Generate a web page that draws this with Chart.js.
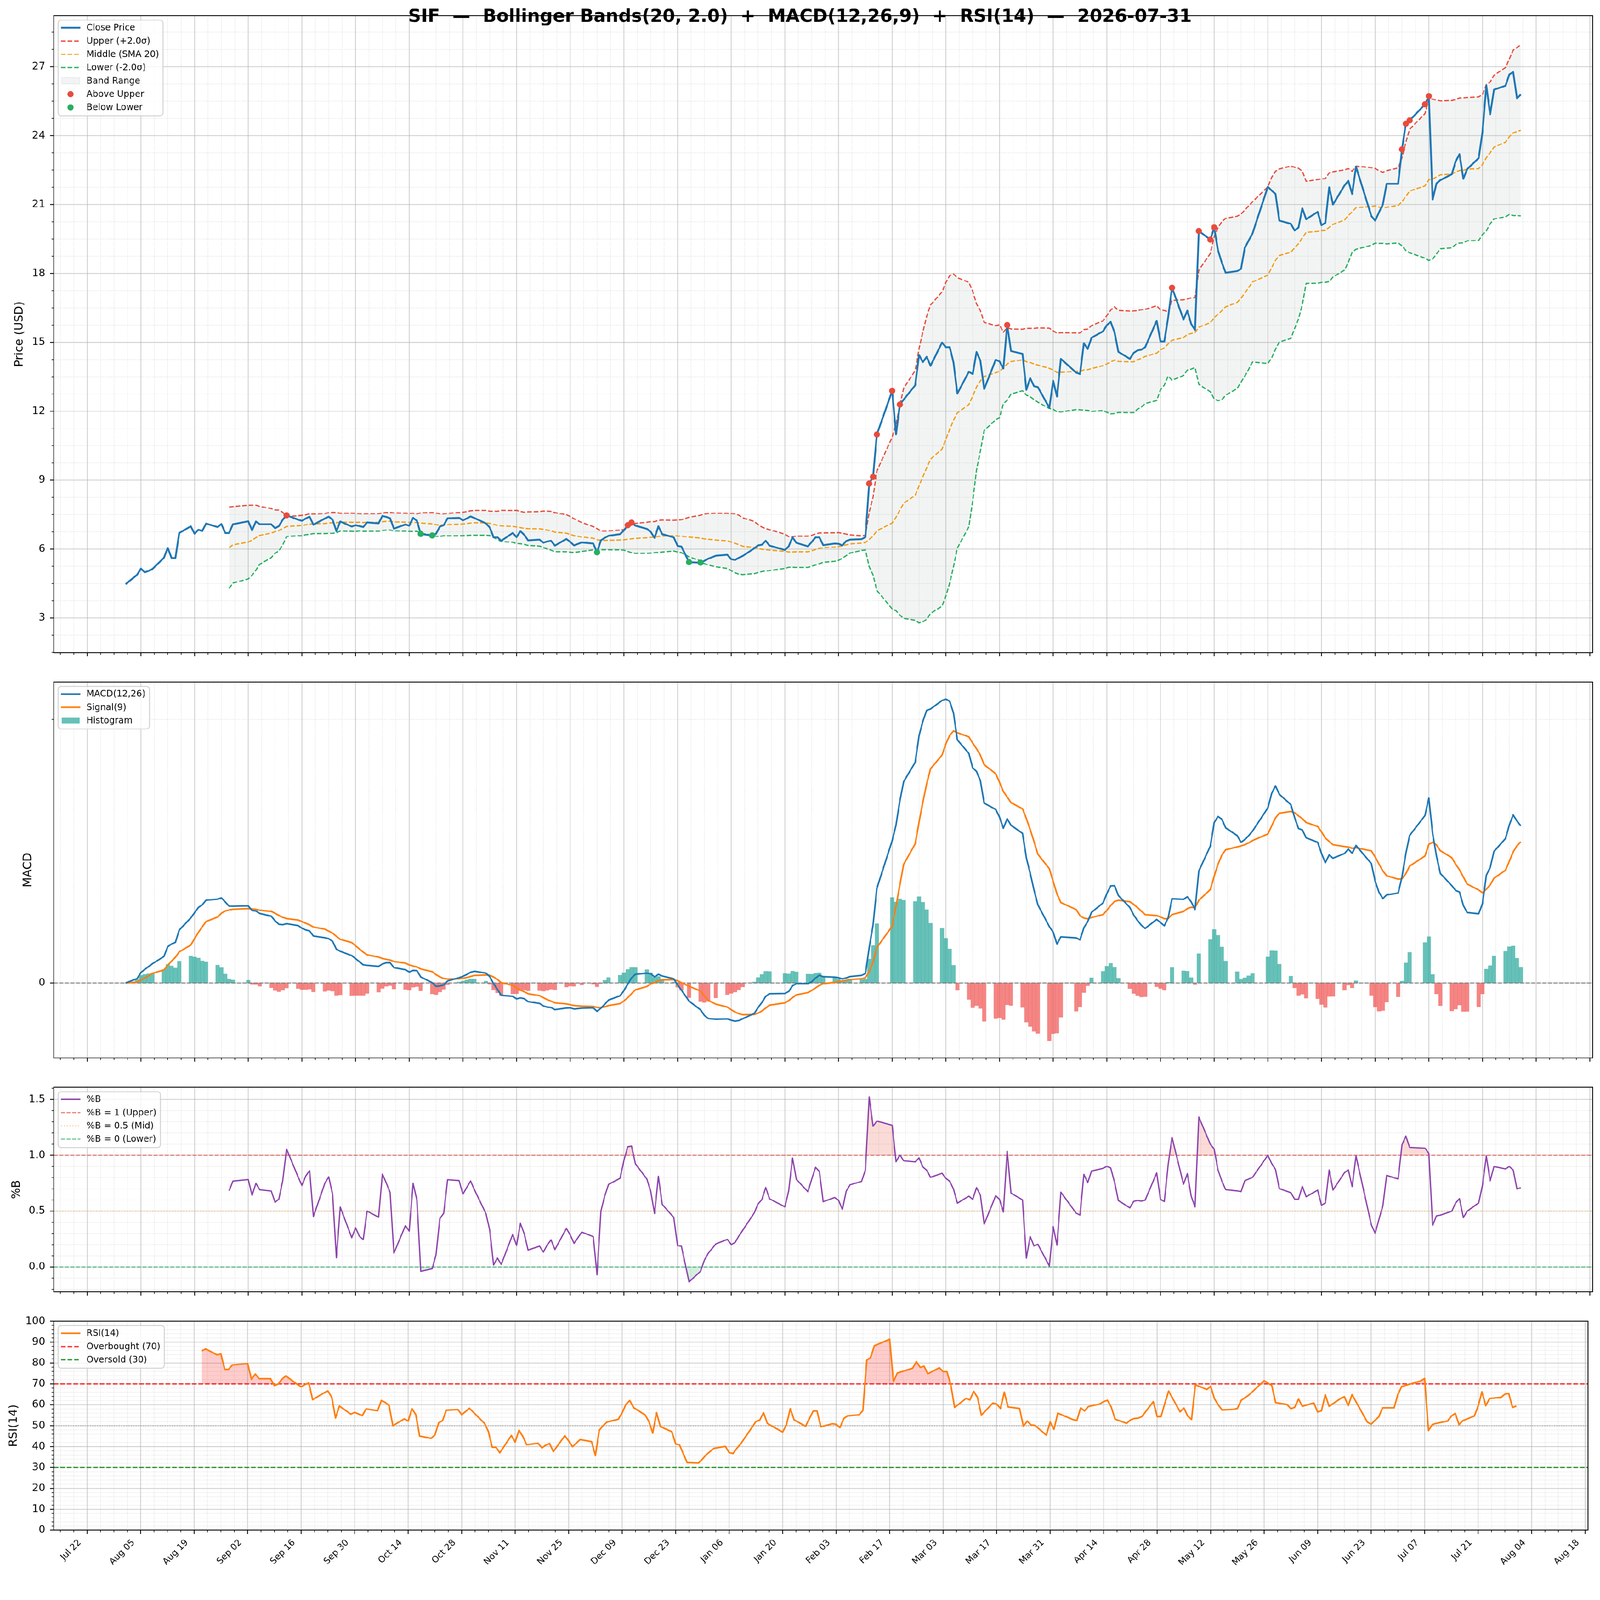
<!DOCTYPE html>
<html>
<head>
<meta charset="utf-8">
<script src="https://cdn.jsdelivr.net/npm/chart.js"></script>
<style>
  html, body { margin: 0; padding: 0; background: #fff; overflow: hidden; }
  #stage { width: 4378px; height: 4322px; position: absolute; left: 0; top: 0; transform-origin: 0 0; background: #fff; }
  canvas { position: absolute; left: 0; }
</style>
</head>
<body>
<div id="stage">
<canvas id="pricePanel" width="4378" height="1826" style="top:0px"></canvas>
<canvas id="macdPanel" width="4378" height="1109" style="top:1826px"></canvas>
<canvas id="pbPanel" width="4378" height="640" style="top:2935px"></canvas>
<canvas id="rsiPanel" width="4378" height="747" style="top:3575px"></canvas>
</div>
<script>
// fit the 4378x4322 drawing into whatever CSS viewport the browser reports
(function () {
  const s = Math.min(window.innerWidth / 4378, window.innerHeight / 4322);
  if (s > 0 && Math.abs(s - 1) > 0.002) document.getElementById("stage").style.transform = "scale(" + s + ")";
})();

// trading days and closes
const tradeDates = [
  "2025-08-01","2025-08-04","2025-08-05","2025-08-06","2025-08-07","2025-08-08","2025-08-11","2025-08-12","2025-08-13","2025-08-14","2025-08-15","2025-08-18","2025-08-19","2025-08-20","2025-08-21","2025-08-22","2025-08-25","2025-08-26","2025-08-27","2025-08-28","2025-08-29",
  "2025-09-02","2025-09-03","2025-09-04","2025-09-05","2025-09-08","2025-09-09","2025-09-10","2025-09-11","2025-09-12","2025-09-15","2025-09-16","2025-09-17","2025-09-18","2025-09-19","2025-09-22","2025-09-23","2025-09-24","2025-09-25","2025-09-26","2025-09-29","2025-09-30",
  "2025-10-01","2025-10-02","2025-10-03","2025-10-06","2025-10-07","2025-10-08","2025-10-09","2025-10-10","2025-10-13","2025-10-14","2025-10-15","2025-10-16","2025-10-17","2025-10-20","2025-10-21","2025-10-22","2025-10-23","2025-10-24","2025-10-27","2025-10-28","2025-10-29","2025-10-30","2025-10-31",
  "2025-11-03","2025-11-04","2025-11-05","2025-11-06","2025-11-07","2025-11-10","2025-11-11","2025-11-12","2025-11-13","2025-11-14","2025-11-17","2025-11-18","2025-11-19","2025-11-20","2025-11-21","2025-11-24","2025-11-25","2025-11-26","2025-11-28",
  "2025-12-01","2025-12-02","2025-12-03","2025-12-04","2025-12-05","2025-12-08","2025-12-09","2025-12-10","2025-12-11","2025-12-12","2025-12-15","2025-12-16","2025-12-17","2025-12-18","2025-12-19","2025-12-22","2025-12-23","2025-12-24","2025-12-26","2025-12-29","2025-12-30","2025-12-31",
  "2026-01-02","2026-01-05","2026-01-06","2026-01-07","2026-01-08","2026-01-09","2026-01-12","2026-01-13","2026-01-14","2026-01-15","2026-01-16","2026-01-20","2026-01-21","2026-01-22","2026-01-23","2026-01-26","2026-01-27","2026-01-28","2026-01-29","2026-01-30",
  "2026-02-02","2026-02-03","2026-02-04","2026-02-05","2026-02-06","2026-02-09","2026-02-10","2026-02-11","2026-02-12","2026-02-13","2026-02-17","2026-02-18","2026-02-19","2026-02-20","2026-02-23","2026-02-24","2026-02-25","2026-02-26","2026-02-27",
  "2026-03-02","2026-03-03","2026-03-04","2026-03-05","2026-03-06","2026-03-09","2026-03-10","2026-03-11","2026-03-12","2026-03-13","2026-03-16","2026-03-17","2026-03-18","2026-03-19","2026-03-20","2026-03-23","2026-03-24","2026-03-25","2026-03-26","2026-03-27","2026-03-30","2026-03-31",
  "2026-04-01","2026-04-02","2026-04-06","2026-04-07","2026-04-08","2026-04-09","2026-04-10","2026-04-13","2026-04-14","2026-04-15","2026-04-16","2026-04-17","2026-04-20","2026-04-21","2026-04-22","2026-04-23","2026-04-24","2026-04-27","2026-04-28","2026-04-29","2026-04-30",
  "2026-05-01","2026-05-04","2026-05-05","2026-05-06","2026-05-07","2026-05-08","2026-05-11","2026-05-12","2026-05-13","2026-05-14","2026-05-15","2026-05-18","2026-05-19","2026-05-20","2026-05-21","2026-05-22","2026-05-26","2026-05-27","2026-05-28","2026-05-29",
  "2026-06-01","2026-06-02","2026-06-03","2026-06-04","2026-06-05","2026-06-08","2026-06-09","2026-06-10","2026-06-11","2026-06-12","2026-06-15","2026-06-16","2026-06-17","2026-06-18","2026-06-22","2026-06-23","2026-06-24","2026-06-25","2026-06-26","2026-06-29","2026-06-30",
  "2026-07-01","2026-07-02","2026-07-06","2026-07-07","2026-07-08","2026-07-09","2026-07-10","2026-07-13","2026-07-14","2026-07-15","2026-07-16","2026-07-17","2026-07-20","2026-07-21","2026-07-22","2026-07-23","2026-07-24","2026-07-27","2026-07-28","2026-07-29","2026-07-30","2026-07-31"
];
const closePrices = [
  4.47, 4.88, 5.15, 4.99, 5.05, 5.13, 5.62, 6.05, 5.61, 5.61, 6.70, 6.99, 6.67, 6.84, 6.79, 7.11, 6.96, 7.09, 6.70, 6.70, 7.08,
  7.21, 6.82, 7.20, 7.08, 7.08, 6.91, 7.00, 7.28, 7.47, 7.28, 7.23, 7.33, 7.41, 7.06, 7.33, 7.41, 7.28, 6.78, 7.20, 6.98, 7.04,
  7.00, 6.96, 7.16, 7.12, 7.44, 7.40, 7.34, 6.89, 7.07, 7.02, 7.36, 7.23, 6.66, 6.59, 6.67, 6.98, 7.04, 7.34, 7.36, 7.25, 7.33, 7.42, 7.35,
  7.12, 6.94, 6.52, 6.52, 6.36, 6.70, 6.52, 6.78, 6.62, 6.38, 6.41, 6.28, 6.33, 6.36, 6.15, 6.44, 6.31, 6.16, 6.29,
  6.24, 5.86, 6.38, 6.49, 6.58, 6.65, 6.81, 7.04, 7.15, 7.02, 6.88, 6.75, 6.49, 6.99, 6.65, 6.51, 6.14, 6.11, 5.43, 5.41, 5.49, 5.58,
  5.71, 5.75, 5.56, 5.53, 5.62, 5.70, 6.03, 6.16, 6.19, 6.36, 6.15, 5.96, 6.12, 6.51, 6.27, 6.12, 6.31, 6.51, 6.51, 6.17,
  6.24, 6.23, 6.16, 6.35, 6.41, 6.43, 6.52, 8.85, 9.14, 10.99, 12.89, 10.99, 12.29, 12.51, 13.13, 14.45, 14.14, 14.37, 13.98,
  14.99, 14.79, 14.79, 14.12, 12.77, 13.72, 13.62, 14.58, 14.20, 12.97, 14.24, 14.17, 13.86, 15.75, 14.62, 14.50, 12.93, 13.44, 13.09, 13.05, 12.15, 13.32,
  12.64, 14.28, 13.68, 13.62, 14.96, 14.71, 15.20, 15.48, 15.75, 15.89, 15.44, 14.59, 14.28, 14.54, 14.65, 14.68, 14.79, 15.94, 15.04, 15.04, 16.10,
  17.38, 16.00, 16.38, 15.80, 15.54, 19.85, 19.47, 20.00, 19.00, 18.47, 18.03, 18.10, 18.20, 19.12, 19.43, 19.74, 21.77, 21.61, 21.46, 20.30,
  20.16, 19.87, 20.00, 20.83, 20.36, 20.68, 20.10, 20.20, 21.75, 21.00, 21.83, 22.03, 21.46, 22.65, 20.50, 20.30, 20.66, 21.00, 21.90, 21.90, 23.40,
  24.52, 24.66, 25.36, 25.72, 21.22, 21.92, 22.06, 22.32, 22.88, 23.19, 22.12, 22.54, 23.02, 24.15, 26.18, 24.93, 26.00, 26.17, 26.66, 26.77, 25.63, 25.79
];

// axis ticks
const xTickDates = ["2025-07-22","2025-08-05","2025-08-19","2025-09-02","2025-09-16","2025-09-30","2025-10-14","2025-10-28","2025-11-11","2025-11-25","2025-12-09","2025-12-23","2026-01-06","2026-01-20","2026-02-03","2026-02-17","2026-03-03","2026-03-17","2026-03-31","2026-04-14","2026-04-28","2026-05-12","2026-05-26","2026-06-09","2026-06-23","2026-07-07","2026-07-21","2026-08-04","2026-08-18"];
const xTickLabels = ["Jul 22","Aug 05","Aug 19","Sep 02","Sep 16","Sep 30","Oct 14","Oct 28","Nov 11","Nov 25","Dec 09","Dec 23","Jan 06","Jan 20","Feb 03","Feb 17","Mar 03","Mar 17","Mar 31","Apr 14","Apr 28","May 12","May 26","Jun 09","Jun 23","Jul 07","Jul 21","Aug 04","Aug 18"];
const priceTicks = [3, 6, 9, 12, 15, 18, 21, 24, 27];
const pctBTicks = [0, 0.5, 1, 1.5];
const rsiTicks = [0, 10, 20, 30, 40, 50, 60, 70, 80, 90, 100];

const FONT = "'DejaVu Sans', sans-serif";
const TITLE = "SIF  \u2014  Bollinger Bands(20, 2.0)  +  MACD(12,26,9)  +  RSI(14)  \u2014  2026-07-31";

// ---- indicators (standard definitions, from the closes above) ----
function rollMean(a, n) {
  return a.map((v, i) => {
    if (i < n - 1) return null;
    let s = 0;
    for (let j = i - n + 1; j <= i; j++) s += a[j];
    return s / n;
  });
}
function rollStd(a, n) {
  const m = rollMean(a, n);
  return a.map((v, i) => {
    if (m[i] === null) return null;
    let s = 0;
    for (let j = i - n + 1; j <= i; j++) s += (a[j] - m[i]) ** 2;
    return Math.sqrt(s / (n - 1));
  });
}
function ema(a, span) {
  const k = 2 / (span + 1);
  const out = [];
  a.forEach((v, i) => out.push(i === 0 ? v : out[i - 1] + k * (v - out[i - 1])));
  return out;
}
function wilderRsi(a, n) {
  const al = 1 / n;
  const out = [null];
  let g = 0, l = 0;
  for (let i = 1; i < a.length; i++) {
    const d = a[i] - a[i - 1];
    const up = Math.max(d, 0), dn = Math.max(-d, 0);
    if (i === 1) { g = up; l = dn; } else { g = (1 - al) * g + al * up; l = (1 - al) * l + al * dn; }
    out.push(i < n ? null : (l === 0 ? 100 : 100 - 100 / (1 + g / l)));
  }
  return out;
}

const dayNum = s => Date.UTC(+s.slice(0, 4), +s.slice(5, 7) - 1, +s.slice(8, 10)) / 86400000;
const xs = tradeDates.map(dayNum);
const N = xs.length;

const mid = rollMean(closePrices, 20);
const sd = rollStd(closePrices, 20);
const upper = mid.map((m, i) => m === null ? null : m + 2 * sd[i]);
const lower = mid.map((m, i) => m === null ? null : m - 2 * sd[i]);
const pctB = closePrices.map((c, i) => mid[i] === null ? null : (c - lower[i]) / (upper[i] - lower[i]));
const ema12 = ema(closePrices, 12), ema26 = ema(closePrices, 26);
const macd = ema12.map((v, i) => v - ema26[i]);
const signal = ema(macd, 9);
const hist = macd.map((v, i) => v - signal[i]);
const rsi = wilderRsi(closePrices, 14);

const pts = arr => arr.map((y, i) => ({x: xs[i], y: y}));

// x range: data span plus half a bar, plus 5% margins
const marginDays = 0.05 * (xs[N - 1] - xs[0] + 1);
const X_MIN = xs[0] - 0.5 - marginDays;
const X_MAX = xs[N - 1] + 0.5 + marginDays;

const macdAll = macd.concat(signal, hist, [0]);
const mLo = Math.min(...macdAll), mHi = Math.max(...macdAll);
const MACD_MIN = mLo - 0.05 * (mHi - mLo);
const MACD_MAX = mHi + 0.05 * (mHi - mLo);

function buildXTicks() {
  const majors = xTickDates.map(dayNum);
  const step = (majors[1] - majors[0]) / 4;
  const out = majors.map((v, i) => ({value: v, lab: xTickLabels[i]}));
  for (let v = majors[0] - step; v >= X_MIN; v -= step) out.push({value: v, minor: true});
  majors.forEach(m => { for (let q = 1; q < 4; q++) out.push({value: m + q * step, minor: true}); });
  return out.filter(t => t.value >= X_MIN && t.value <= X_MAX).sort((a, b) => a.value - b.value);
}
function yTickList(majors, minorStep, lo, hi) {
  const out = majors.filter(v => v >= lo && v <= hi).map(v => ({value: v}));
  for (let k = Math.ceil(lo / minorStep - 1e-9); k * minorStep <= hi + 1e-9; k++) {
    const v = +(k * minorStep).toFixed(6);
    if (!majors.some(m => Math.abs(m - v) < 1e-6)) out.push({value: v, minor: true});
  }
  return out.sort((a, b) => a.value - b.value);
}

// legends drawn matplotlib style, inside the upper-left corner
const legends = {
  pricePanel: [
    {label: "Close Price", kind: "line", color: "#1f77b4", width: 5},
    {label: "Upper (+2.0\u03c3)", kind: "line", color: "#e74c3c", width: 3.4, dash: [12.6, 5.4]},
    {label: "Middle (SMA 20)", kind: "line", color: "#f39c12", width: 3.4, dash: [12.6, 5.4]},
    {label: "Lower (-2.0\u03c3)", kind: "line", color: "#27ae60", width: 3.4, dash: [12.6, 5.4]},
    {label: "Band Range", kind: "patch", color: "rgba(149,165,166,0.12)", edge: "rgba(149,165,166,0.2)"},
    {label: "Above Upper", kind: "dot", color: "#e74c3c"},
    {label: "Below Lower", kind: "dot", color: "#27ae60"}
  ],
  macdPanel: [
    {label: "MACD(12,26)", kind: "line", color: "#1f77b4", width: 4.3},
    {label: "Signal(9)", kind: "line", color: "#ff7f0e", width: 4.3},
    {label: "Histogram", kind: "patch", color: "rgba(38,166,154,0.7)"}
  ],
  pbPanel: [
    {label: "%B", kind: "line", color: "#8e44ad", width: 3.6},
    {label: "%B = 1 (Upper)", kind: "line", color: "rgba(231,76,60,0.7)", width: 2.9, dash: [10.6, 4.6]},
    {label: "%B = 0.5 (Mid)", kind: "line", color: "rgba(243,156,18,0.6)", width: 2.9, dash: [2.9, 4.8]},
    {label: "%B = 0 (Lower)", kind: "line", color: "rgba(39,174,96,0.7)", width: 2.9, dash: [10.6, 4.6]}
  ],
  rsiPanel: [
    {label: "RSI(14)", kind: "line", color: "#ff7f0e", width: 4.3},
    {label: "Overbought (70)", kind: "line", color: "rgba(255,0,0,0.8)", width: 3.4, dash: [12.6, 5.4]},
    {label: "Oversold (30)", kind: "line", color: "rgba(0,128,0,0.8)", width: 3.4, dash: [12.6, 5.4]}
  ]
};

function roundRect(ctx, x, y, w, h, r) {
  ctx.beginPath();
  ctx.moveTo(x + r, y);
  ctx.lineTo(x + w - r, y); ctx.arcTo(x + w, y, x + w, y + r, r);
  ctx.lineTo(x + w, y + h - r); ctx.arcTo(x + w, y + h, x + w - r, y + h, r);
  ctx.lineTo(x + r, y + h); ctx.arcTo(x, y + h, x, y + h - r, r);
  ctx.lineTo(x, y + r); ctx.arcTo(x, y, x + r, y, r);
  ctx.closePath();
}

function drawLegend(ctx, a, items) {
  ctx.save();
  ctx.font = "24.3px " + FONT;
  const tw = Math.max(...items.map(it => ctx.measureText(it.label).width));
  const x0 = a.left + 12, y0 = a.top + 12;
  const w = 77.6 + tw + 11, h = 44 + (items.length - 1) * 36.3;
  roundRect(ctx, x0, y0, w, h, 8);
  ctx.fillStyle = "rgba(255,255,255,0.8)";
  ctx.fill();
  ctx.lineWidth = 2.5;
  ctx.strokeStyle = "rgba(204,204,204,0.9)";
  ctx.stroke();
  items.forEach((it, i) => {
    const cy = y0 + 21 + i * 36.3;
    ctx.save();
    if (it.kind === "line") {
      ctx.beginPath();
      ctx.setLineDash(it.dash || []);
      ctx.lineWidth = it.width;
      ctx.strokeStyle = it.color;
      ctx.moveTo(x0 + 8, cy); ctx.lineTo(x0 + 61, cy);
      ctx.stroke();
    } else if (it.kind === "dot") {
      ctx.beginPath();
      ctx.arc(x0 + 34, cy, 8.5, 0, 2 * Math.PI);
      ctx.fillStyle = it.color;
      ctx.fill();
    } else {
      ctx.fillStyle = it.color;
      ctx.fillRect(x0 + 10, cy - 8.5, 49, 17);
      if (it.edge) { ctx.strokeStyle = it.edge; ctx.lineWidth = 1.5; ctx.strokeRect(x0 + 10, cy - 8.5, 49, 17); }
    }
    ctx.restore();
    ctx.fillStyle = "#000";
    ctx.textAlign = "left";
    ctx.textBaseline = "middle";
    ctx.fillText(it.label, x0 + 77.6, cy + 1);
  });
  ctx.restore();
}

// grid (major solid, minor dotted), spines, outward ticks, legend, title
const mplPlugin = {
  id: "mpl",
  beforeDatasetsDraw(chart) {
    const {ctx, chartArea: a} = chart;
    ctx.save();
    ctx.beginPath();
    ctx.rect(a.left, a.top, a.right - a.left, a.bottom - a.top);
    ctx.clip();
    [true, false].forEach(minorPass => {
      ["x", "y"].forEach(id => {
        const s = chart.scales[id];
        s.ticks.forEach(t => {
          if (!!t.minor !== minorPass) return;
          const p = s.getPixelForValue(t.value);
          ctx.beginPath();
          ctx.lineWidth = minorPass ? 1.5 : 2.3;
          ctx.strokeStyle = minorPass ? "rgba(176,176,176,0.55)" : "rgba(176,176,176,0.6)";
          ctx.setLineDash(minorPass ? [1.5, 2.5] : []);
          if (id === "x") { ctx.moveTo(p, a.top); ctx.lineTo(p, a.bottom); }
          else { ctx.moveTo(a.left, p); ctx.lineTo(a.right, p); }
          ctx.stroke();
        });
      });
    });
    ctx.restore();
  },
  afterDatasetsDraw(chart) {
    const {ctx, chartArea: a} = chart;
    ctx.save();
    ctx.setLineDash([]);
    ctx.strokeStyle = "#000";
    const sx = chart.scales.x, sy = chart.scales.y;
    sx.ticks.forEach(t => {
      const p = sx.getPixelForValue(t.value);
      ctx.lineWidth = t.minor ? 1.7 : 2.3;
      ctx.beginPath(); ctx.moveTo(p, a.bottom); ctx.lineTo(p, a.bottom + (t.minor ? 5.7 : 10)); ctx.stroke();
    });
    sy.ticks.forEach(t => {
      const p = sy.getPixelForValue(t.value);
      ctx.lineWidth = t.minor ? 1.7 : 2.3;
      ctx.beginPath(); ctx.moveTo(a.left, p); ctx.lineTo(a.left - (t.minor ? 5.7 : 10), p); ctx.stroke();
    });
    ctx.lineWidth = 2.3;
    ctx.strokeRect(a.left, a.top, a.right - a.left, a.bottom - a.top);
    ctx.restore();
    const items = legends[chart.canvas.id];
    if (items) drawLegend(ctx, a, items);
  },
  afterDraw(chart) {
    if (chart.canvas.id !== "pricePanel") return;
    const ctx = chart.ctx;
    ctx.save();
    ctx.font = "bold 49px " + FONT;
    ctx.fillStyle = "#000";
    ctx.textAlign = "center";
    ctx.textBaseline = "alphabetic";
    ctx.fillText(TITLE, 2189, 60);
    ctx.restore();
  }
};

function panelOptions(o) {
  return {
    responsive: false,
    animation: false,
    devicePixelRatio: 1,
    events: [],
    layout: {padding: {top: o.padTop, right: 20, bottom: 0, left: 0}},
    plugins: {legend: {display: false}, tooltip: {enabled: false}},
    scales: {
      x: {
        type: "linear", min: X_MIN, max: X_MAX, bounds: "data", offset: false,
        grid: {display: false, drawTicks: false}, border: {display: false},
        afterBuildTicks: s => { s.ticks = buildXTicks(); },
        afterFit: s => { s.height = o.xAxisH; },
        ticks: o.showX ? {
          display: true, autoSkip: false, maxRotation: 45, minRotation: 45,
          padding: 20, labelOffset: -20, color: "#000",
          font: {family: FONT, size: 24.3},
          callback: (v, i, t) => t[i].minor ? "" : t[i].lab
        } : {display: false}
      },
      y: {
        type: "linear", min: o.yMin, max: o.yMax, bounds: "data",
        grid: {display: false, drawTicks: false}, border: {display: false},
        afterBuildTicks: s => { s.ticks = o.yTicks(); },
        afterFit: s => { s.width = 147; },
        ticks: {
          autoSkip: false, padding: 23, color: "#000",
          font: {family: FONT, size: 28.6},
          callback: (v, i, t) => t[i].minor ? "" : o.yFmt(v)
        },
        title: {
          display: true, text: o.yTitle, color: "#000",
          font: {family: FONT, size: 31.6}, padding: {top: o.titlePad, bottom: 0}
        }
      }
    }
  };
}

const hLine = v => [{x: X_MIN, y: v}, {x: X_MAX, y: v}];
const lineStyle = {pointRadius: 0, tension: 0, borderJoinStyle: "round", fill: false};

// ---- price + Bollinger bands ----
const aboveUpper = [], belowLower = [];
closePrices.forEach((c, i) => {
  if (upper[i] !== null && c > upper[i]) aboveUpper.push({x: xs[i], y: c});
  if (lower[i] !== null && c < lower[i]) belowLower.push({x: xs[i], y: c});
});

new Chart(document.getElementById("pricePanel"), {
  type: "line",
  data: {
    datasets: [
      {label: "Above Upper", data: aboveUpper, showLine: false, pointRadius: 8.5, pointBackgroundColor: "#e74c3c", pointBorderWidth: 0, order: 0},
      {label: "Below Lower", data: belowLower, showLine: false, pointRadius: 8.5, pointBackgroundColor: "#27ae60", pointBorderWidth: 0, order: 1},
      Object.assign({label: "Close Price", data: pts(closePrices), borderColor: "#1f77b4", borderWidth: 5, order: 2}, lineStyle),
      Object.assign({label: "Upper", data: pts(upper), borderColor: "#e74c3c", borderWidth: 3.4, borderDash: [12.6, 5.4], order: 3}, lineStyle),
      Object.assign({label: "Middle", data: pts(mid), borderColor: "#f39c12", borderWidth: 3.4, borderDash: [12.6, 5.4], order: 4}, lineStyle),
      Object.assign({}, lineStyle, {label: "Lower", data: pts(lower), borderColor: "#27ae60", borderWidth: 3.4, borderDash: [12.6, 5.4], order: 5,
        fill: {target: 3}, backgroundColor: "rgba(149,165,166,0.12)"})
    ]
  },
  options: panelOptions({
    padTop: 43, xAxisH: 28, showX: false, yMin: 1.49, yMax: 29.22,
    yTicks: () => yTickList(priceTicks, 0.75, 1.49, 29.22),
    yFmt: v => String(v), yTitle: "Price (USD)", titlePad: 35
  }),
  plugins: [mplPlugin]
});

// ---- MACD ----
new Chart(document.getElementById("macdPanel"), {
  type: "line",
  data: {
    datasets: [
      Object.assign({label: "MACD(12,26)", data: pts(macd), borderColor: "#1f77b4", borderWidth: 4.3, order: 0}, lineStyle),
      Object.assign({label: "Signal(9)", data: pts(signal), borderColor: "#ff7f0e", borderWidth: 4.3, order: 1}, lineStyle),
      Object.assign({label: "zero", data: hLine(0), borderColor: "rgba(128,128,128,0.9)", borderWidth: 2.9, borderDash: [10.6, 4.6], order: 2}, lineStyle),
      {type: "bar", label: "Histogram", data: pts(hist), order: 3,
       backgroundColor: hist.map(v => v >= 0 ? "rgba(38,166,154,0.7)" : "rgba(239,83,80,0.7)"),
       borderWidth: 0, barPercentage: 1, categoryPercentage: 1, grouped: false}
    ]
  },
  options: panelOptions({
    padTop: 28, xAxisH: 28, showX: false, yMin: MACD_MIN, yMax: MACD_MAX,
    yTicks: () => [{value: 0}, {value: MACD_MAX - 0.0995 * (MACD_MAX - MACD_MIN), minor: true}],
    yFmt: v => "0", yTitle: "MACD", titlePad: 58
  }),
  plugins: [mplPlugin]
});

// ---- %B ----
new Chart(document.getElementById("pbPanel"), {
  type: "line",
  data: {
    datasets: [
      Object.assign({}, lineStyle, {label: "%B", data: pts(pctB), borderColor: "#8e44ad", borderWidth: 3.6, order: 0,
        fill: {target: {value: 1}, above: "rgba(231,76,60,0.2)", below: "rgba(0,0,0,0)"}}),
      Object.assign({}, lineStyle, {label: "%B below 0", data: pts(pctB), borderColor: "rgba(0,0,0,0)", borderWidth: 0, order: 1,
        fill: {target: {value: 0}, above: "rgba(0,0,0,0)", below: "rgba(39,174,96,0.2)"}}),
      Object.assign({label: "%B = 1 (Upper)", data: hLine(1), borderColor: "rgba(231,76,60,0.7)", borderWidth: 2.9, borderDash: [10.6, 4.6], order: 2}, lineStyle),
      Object.assign({label: "%B = 0.5 (Mid)", data: hLine(0.5), borderColor: "rgba(243,156,18,0.6)", borderWidth: 2.9, borderDash: [2.9, 4.8], order: 3}, lineStyle),
      Object.assign({label: "%B = 0 (Lower)", data: hLine(0), borderColor: "rgba(39,174,96,0.7)", borderWidth: 2.9, borderDash: [10.6, 4.6], order: 4}, lineStyle)
    ]
  },
  options: panelOptions({
    padTop: 27, xAxisH: 28, showX: false, yMin: -0.223, yMax: 1.609,
    yTicks: () => yTickList(pctBTicks, 0.1, -0.223, 1.609),
    yFmt: v => v.toFixed(1), yTitle: "%B", titlePad: 27
  }),
  plugins: [mplPlugin]
});

// ---- RSI ----
new Chart(document.getElementById("rsiPanel"), {
  type: "line",
  data: {
    datasets: [
      Object.assign({}, lineStyle, {label: "RSI(14)", data: pts(rsi), borderColor: "#ff7f0e", borderWidth: 4.3, order: 0,
        fill: {target: {value: 70}, above: "rgba(255,0,0,0.2)", below: "rgba(0,0,0,0)"}}),
      Object.assign({}, lineStyle, {label: "RSI below 30", data: pts(rsi), borderColor: "rgba(0,0,0,0)", borderWidth: 0, order: 1,
        fill: {target: {value: 30}, above: "rgba(0,0,0,0)", below: "rgba(0,128,0,0.2)"}}),
      Object.assign({label: "Overbought (70)", data: hLine(70), borderColor: "rgba(255,0,0,0.8)", borderWidth: 3.4, borderDash: [12.6, 5.4], order: 2}, lineStyle),
      Object.assign({label: "Oversold (30)", data: hLine(30), borderColor: "rgba(0,128,0,0.8)", borderWidth: 3.4, borderDash: [12.6, 5.4], order: 3}, lineStyle),
      Object.assign({label: "50", data: hLine(50), borderColor: "rgba(128,128,128,0.6)", borderWidth: 2.5, borderDash: [2.5, 4.1], order: 4}, lineStyle)
    ]
  },
  options: panelOptions({
    padTop: 27, xAxisH: 135, showX: true, yMin: 0, yMax: 100,
    yTicks: () => yTickList(rsiTicks, 2, 0, 100),
    yFmt: v => String(v), yTitle: "RSI(14)", titlePad: 19
  }),
  plugins: [mplPlugin]
});
</script>
</body>
</html>
